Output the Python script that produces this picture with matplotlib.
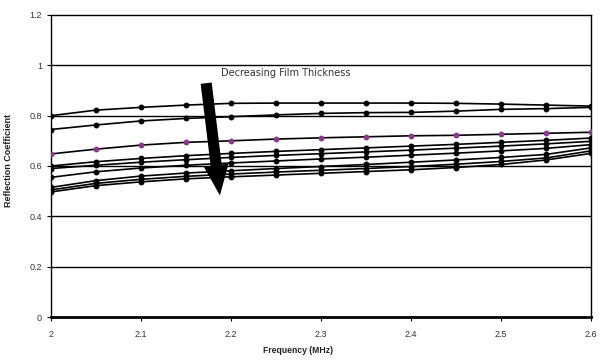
import matplotlib
matplotlib.use("Agg")
import matplotlib.pyplot as plt
import numpy as np

freq = [2.00, 2.05, 2.10, 2.15, 2.20, 2.25, 2.30, 2.35, 2.40, 2.45, 2.50, 2.55, 2.60]

curve1 = [0.800, 0.822, 0.833, 0.842, 0.849, 0.850, 0.850, 0.850, 0.850, 0.849, 0.846, 0.842, 0.838]
curve2 = [0.745, 0.763, 0.779, 0.789, 0.796, 0.803, 0.809, 0.812, 0.813, 0.818, 0.825, 0.828, 0.833]
curve3 = [0.648, 0.667, 0.683, 0.694, 0.700, 0.707, 0.712, 0.716, 0.720, 0.722, 0.726, 0.730, 0.734]
curve4 = [0.600, 0.617, 0.630, 0.641, 0.650, 0.658, 0.665, 0.672, 0.679, 0.686, 0.694, 0.702, 0.711]
curve5 = [0.590, 0.603, 0.615, 0.625, 0.634, 0.642, 0.649, 0.656, 0.663, 0.671, 0.679, 0.688, 0.698]
curve6 = [0.555, 0.577, 0.592, 0.603, 0.612, 0.620, 0.628, 0.635, 0.643, 0.651, 0.660, 0.670, 0.685]
curve7 = [0.515, 0.542, 0.560, 0.572, 0.581, 0.590, 0.598, 0.606, 0.615, 0.624, 0.634, 0.646, 0.672]
curve8 = [0.505, 0.531, 0.547, 0.559, 0.568, 0.576, 0.583, 0.590, 0.598, 0.607, 0.618, 0.632, 0.660]
curve9 = [0.497, 0.522, 0.537, 0.549, 0.557, 0.564, 0.571, 0.578, 0.585, 0.594, 0.606, 0.624, 0.650]

curves = [curve1, curve2, curve3, curve4, curve5, curve6, curve7, curve8, curve9]
marker_colors = ["black", "black", "#8a3a8a", "black", "black", "black", "black", "black", "black"]

xticks = [2.0, 2.1, 2.2, 2.3, 2.4, 2.5, 2.6]
xticklabels = ["2", "2.1", "2.2", "2.3", "2.4", "2.5", "2.6"]
yticks = [0, 0.2, 0.4, 0.6, 0.8, 1.0, 1.2]
yticklabels = ["0", "0.2", "0.4", "0.6", "0.8", "1", "1.2"]

plt.rcParams['font.family'] = ['Liberation Sans', 'DejaVu Sans']

fig = plt.figure(figsize=(6.01, 3.63), dpi=100)
ax = fig.add_axes([0.0849, 0.1267, 0.8985, 0.832])

for yv in yticks[1:-1]:
    ax.axhline(yv, color="black", lw=1.0, zorder=1)

for c, mc in zip(curves, marker_colors):
    ax.plot(freq, c, color="black", lw=1.2, marker="o", markersize=3.2,
            markerfacecolor=mc, markeredgecolor=mc, zorder=3)

ax.set_xlim(2.0, 2.6)
ax.set_ylim(0, 1.2)
ax.set_xticks(xticks)
ax.set_xticklabels(xticklabels)
ax.set_yticks(yticks)
ax.set_yticklabels(yticklabels)
ax.tick_params(axis="both", labelsize=6.5, labelcolor="#333333", length=3, width=0.8, direction="out")
ax.tick_params(axis="x", pad=6)

for s in ax.spines.values():
    s.set_color("black")
    s.set_linewidth(1.0)
ax.spines["bottom"].set_linewidth(2.0)

ax.set_xlabel("Frequency (MHz)", fontsize=6.2, fontweight="bold", color="#222222")
ax.xaxis.set_label_coords(0.457, -0.095)
ax.set_ylabel("Reflection Coefficient", fontsize=6.5, fontweight="bold", color="#222222")
ax.yaxis.set_label_coords(-0.07, 0.52)

ax.annotate("", xy=(2.188, 0.472), xytext=(2.172, 0.94),
            arrowprops=dict(arrowstyle="simple,head_length=2.2,head_width=1.8,tail_width=0.8",
                            color="black", lw=0, mutation_scale=10), zorder=5)
ax.text(2.189, 0.969, "Decreasing Film Thickness", fontsize=7.0, color="#333333",
        family="DejaVu Sans", va="center", ha="left", zorder=6)

fig.savefig("out.png", dpi=100)
